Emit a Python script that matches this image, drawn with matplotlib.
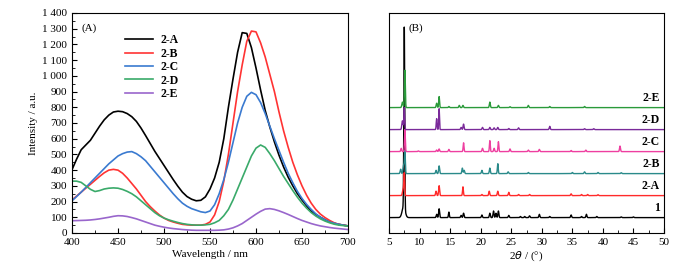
import numpy as np
import matplotlib.pyplot as plt
from matplotlib.ticker import MultipleLocator

plt.rcParams['font.family'] = ['Liberation Serif', 'DejaVu Serif']
plt.rcParams['font.size'] = 8

# (A) emission spectra, every 5 nm
wl = list(range(400, 705, 5))
i_2a = [403, 470, 530, 560, 590, 635, 680, 720, 750, 770, 775, 772, 760, 740, 710, 668, 620, 570, 520, 475,
        430, 385, 340, 298, 260, 232, 215, 205, 208, 230, 280, 350, 450, 600, 800, 980, 1150, 1275, 1270, 1180,
        1050, 910, 780, 675, 580, 495, 420, 355, 300, 250, 210, 172, 140, 118, 100, 84, 70, 62, 55, 50, 45]
i_2b = [210, 235, 260, 285, 310, 335, 360, 383, 400, 405, 400, 380, 350, 315, 280, 240, 200, 168, 140, 115,
        95, 80, 70, 62, 55, 52, 50, 50, 50, 55, 70, 115, 200, 330, 500, 700, 900, 1070, 1220, 1285,
        1280, 1210, 1120, 1010, 900, 770, 650, 545, 450, 370, 300, 240, 190, 150, 120, 98, 80, 65, 55, 50, 45]
i_2c = [205, 232, 260, 290, 320, 350, 380, 410, 440, 465, 490, 505, 515, 518, 505, 485, 460, 425, 390, 355,
        320, 285, 250, 218, 190, 170, 155, 145, 135, 130, 140, 180, 250, 340, 450, 575, 700, 800, 870, 895,
        880, 830, 760, 680, 600, 525, 450, 380, 320, 265, 220, 182, 150, 122, 100, 84, 70, 62, 55, 50, 45]
i_2d = [330, 330, 322, 300, 278, 264, 270, 280, 285, 287, 285, 277, 265, 250, 230, 205, 180, 155, 130, 110,
        95, 84, 75, 67, 60, 55, 52, 50, 50, 52, 55, 65, 80, 110, 150, 210, 280, 350, 420, 490,
        540, 560, 545, 505, 460, 410, 360, 315, 270, 228, 190, 158, 130, 108, 90, 76, 65, 56, 50, 47, 45]
i_2e = [78, 79, 80, 81, 83, 86, 90, 95, 100, 106, 110, 109, 105, 98, 90, 80, 70, 60, 50, 43,
        37, 32, 28, 25, 22, 20, 18, 17, 17, 17, 17, 17, 18, 20, 25, 33, 45, 60, 80, 100,
        120, 138, 152, 155, 150, 141, 130, 118, 105, 92, 80, 70, 60, 52, 45, 40, 35, 31, 28, 25, 22]
spec_labels = ['2-A', '2-B', '2-C', '2-D', '2-E']
spec_colors = ['#000000', '#ff3333', '#3a7ad0', '#3aaa6a', '#9966cc']

# (B) XRD patterns: baseline offset and (2theta, height, width) peaks
xrd_labels = ['1', '2-A', '2-B', '2-C', '2-D', '2-E']
xrd_colors = ['#000000', '#ff2a2a', '#2a8a8a', '#ee3fa0', '#7a2a9a', '#2a9a3a']
xrd_offsets = [7, 17, 27, 37, 47, 57]
peaks_1 = [(7.5, 82, 0.07), (7.4, 5, 0.25), (12.8, 1.5, 0.08), (13.2, 4, 0.08), (14.8, 2.5, 0.07),
           (16.8, 1, 0.08), (17.2, 2, 0.08), (20.2, 1.2, 0.08), (21.5, 2, 0.08), (22.1, 3, 0.08),
           (22.5, 2, 0.08), (22.9, 3, 0.08), (24.6, 1, 0.08), (26.5, 0.5, 0.08), (27.2, 0.5, 0.08),
           (28.0, 0.8, 0.08), (29.6, 1.5, 0.08), (31.3, 0.5, 0.08), (34.8, 1.2, 0.08), (36.5, 0.5, 0.08),
           (37.3, 1.5, 0.08), (39.0, 0.5, 0.08), (43.0, 0.3, 0.08), (45.0, 0.3, 0.08)]
peaks_2a = [(7.3, 3, 0.1), (7.5, 10, 0.07), (12.7, 2, 0.08), (13.2, 4.5, 0.08), (17.1, 4, 0.07),
            (20.2, 0.5, 0.08), (21.4, 2, 0.08), (22.8, 2, 0.08), (24.6, 1.5, 0.08), (26.2, 0.5, 0.08),
            (28.0, 0.5, 0.08), (34.8, 0.8, 0.08), (36.5, 0.5, 0.08), (37.5, 0.5, 0.08), (39.2, 0.4, 0.08)]
peaks_2b = [(6.9, 2, 0.08), (7.4, 4, 0.1), (7.6, 10, 0.07), (12.7, 1.5, 0.08), (13.2, 3.5, 0.08),
            (17.0, 2.5, 0.08), (17.3, 1.5, 0.08), (20.2, 1.5, 0.08), (21.5, 2.5, 0.08), (22.8, 4.5, 0.07),
            (24.5, 0.8, 0.08), (27.8, 0.5, 0.08), (35.0, 0.5, 0.08), (37.0, 0.8, 0.08), (39.2, 0.5, 0.08),
            (43.0, 0.4, 0.08)]
peaks_2c = [(7.0, 1.5, 0.08), (7.6, 10, 0.07), (9.8, 0.3, 0.08), (12.8, 0.7, 0.08), (13.2, 1.2, 0.08),
            (14.8, 1, 0.08), (17.2, 4, 0.07), (20.3, 1.5, 0.08), (21.5, 5, 0.07), (22.2, 1.5, 0.08),
            (22.9, 4.5, 0.07), (24.8, 1.2, 0.08), (27.8, 0.7, 0.08), (29.6, 1, 0.08), (34.8, 0.5, 0.08),
            (37.2, 0.7, 0.08), (42.8, 2.5, 0.08)]
peaks_2d = [(7.2, 4, 0.1), (7.5, 10, 0.07), (12.8, 5, 0.07), (13.2, 9.5, 0.06), (16.8, 1, 0.08),
            (17.2, 2.5, 0.08), (20.3, 1, 0.08), (21.5, 1, 0.08), (22.2, 0.8, 0.08), (22.8, 1, 0.08),
            (24.6, 0.5, 0.08), (26.2, 0.8, 0.08), (31.3, 1.5, 0.08), (37.0, 0.4, 0.08), (38.5, 0.4, 0.08)]
peaks_2e = [(7.2, 2.5, 0.1), (7.6, 17, 0.07), (12.8, 2, 0.08), (13.2, 5, 0.07), (14.8, 0.5, 0.08),
            (16.5, 1, 0.08), (17.1, 1, 0.08), (21.5, 2.5, 0.08), (22.9, 1, 0.08), (24.8, 0.4, 0.08),
            (27.8, 1, 0.08), (31.3, 0.5, 0.08), (37.0, 0.5, 0.08)]
xrd_peaks = [peaks_1, peaks_2a, peaks_2b, peaks_2c, peaks_2d, peaks_2e]

fig = plt.figure(figsize=(7.0, 2.77), dpi=100)
ax1 = fig.add_axes([72 / 700, 44 / 277, 276 / 700, 220 / 277])
ax2 = fig.add_axes([389 / 700, 44 / 277, 275 / 700, 220 / 277])

for ys, lab, c in zip([i_2a, i_2b, i_2c, i_2d, i_2e], spec_labels, spec_colors):
    ax1.plot(wl, ys, color=c, lw=1.2, label=lab)
ax1.set_xlim(400, 700)
ax1.set_ylim(0, 1400)
ax1.xaxis.set_major_locator(MultipleLocator(50))
ax1.xaxis.set_minor_locator(MultipleLocator(25))
ax1.yaxis.set_major_locator(MultipleLocator(100))
ax1.yaxis.set_minor_locator(MultipleLocator(50))
ax1.set_yticklabels([f'{int(v):,}'.replace(',', ' ') for v in ax1.get_yticks()])
ax1.tick_params(which='both', direction='in', top=False, right=False)
ax1.tick_params(which='major', length=3.5)
ax1.tick_params(which='minor', length=2)
ax1.set_xlabel('Wavelength / nm', labelpad=2)
ax1.set_ylabel('Intensity / a.u.', labelpad=3)
ax1.text(0.035, 0.93, '(A)', transform=ax1.transAxes, ha='left', va='center')
leg = ax1.legend(loc='upper left', bbox_to_anchor=(0.17, 0.93), frameon=False,
                 handlelength=2.4, handletextpad=0.6, labelspacing=0.12, borderpad=0,
                 prop={'weight': 'bold', 'size': 8.5})

x = np.linspace(5, 50, 6000)
for peaks, off, c, lab in zip(xrd_peaks, xrd_offsets, xrd_colors, xrd_labels):
    y = np.full_like(x, off, dtype=float)
    for p, h, w in peaks:
        y += h * np.exp(-0.5 * ((x - p) / w) ** 2)
    ax2.plot(x, y, color=c, lw=1.0)
    ax2.text(49.3, off + 1.5, lab, ha='right', va='bottom', fontweight='bold', fontsize=8.5)
ax2.set_xlim(5, 50)
ax2.set_ylim(0, 100)
ax2.xaxis.set_major_locator(MultipleLocator(5))
ax2.xaxis.set_minor_locator(MultipleLocator(2.5))
ax2.set_yticks([])
ax2.tick_params(which='both', direction='in', top=False, right=False)
ax2.tick_params(which='major', length=3.5)
ax2.tick_params(which='minor', length=2)
ax2.set_xlabel(r'2$\it{\theta}$ / (°)', labelpad=2)
ax2.text(0.07, 0.93, '(B)', transform=ax2.transAxes, ha='left', va='center')

fig.savefig('out.png', dpi=100)
